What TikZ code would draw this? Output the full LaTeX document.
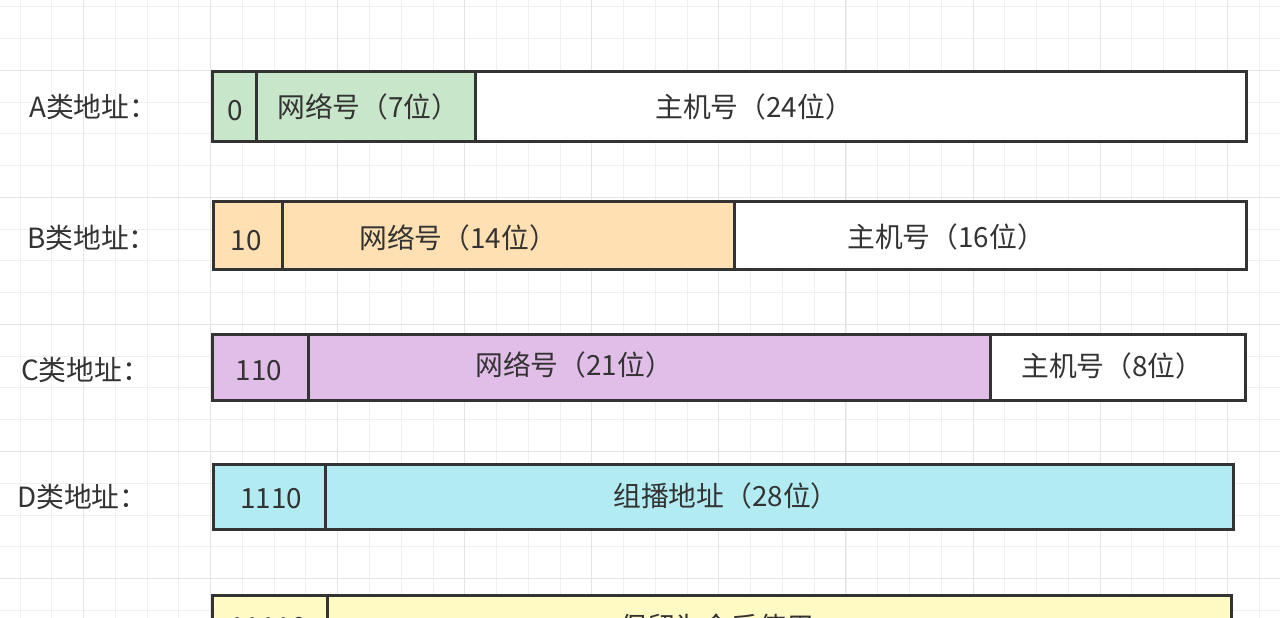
\documentclass[tikz,border=0pt]{standalone}
\usepackage{fontspec}
\setmainfont{Noto Sans CJK SC}
\definecolor{edgec}{HTML}{333333}
\definecolor{txtc}{HTML}{333333}
\definecolor{cgreen}{HTML}{C8E6C9}
\definecolor{corange}{HTML}{FFE0B2}
\definecolor{cpurple}{HTML}{E1BEE7}
\definecolor{ccyan}{HTML}{B2EBF2}
\definecolor{cyellow}{HTML}{FFF9C4}
\definecolor{gridminor}{HTML}{F0F0F0}
\definecolor{gridmajor}{HTML}{E4E4E4}
\tikzset{
  cell/.style={draw=edgec, line width=3pt, anchor=north west, inner sep=0pt, outer sep=0pt},
  txt/.style={anchor=base west, inner sep=0pt, text=txtc, font=\fontsize{27.8}{31}\selectfont},
  bits/.style={anchor=base, inner sep=0pt, text=txtc, font=\fontsize{27.8}{31}\selectfont},
  lbl/.style={anchor=base west, inner sep=0pt, text=txtc, font=\fontsize{27.8}{31}\selectfont},
}
\begin{document}
\begin{tikzpicture}[x=1pt,y=-1pt]
\useasboundingbox (0,0) rectangle (1280,618);
\clip (0,0) rectangle (1280,618);
\fill[white] (0,0) rectangle (1280,618);
% grid
\foreach \i in {0,...,40} {
  \draw[gridminor, line width=1pt] ({20+31.77*\i},0) -- ({20+31.77*\i},618);
}
\foreach \j in {0,...,20} {
  \draw[gridminor, line width=1pt] (0,{6.7+31.77*\j}) -- (1280,{6.7+31.77*\j});
}
\foreach \i in {0,...,9} {
  \draw[gridmajor, line width=1pt] ({83.5+127.08*\i},0) -- ({83.5+127.08*\i},618);
}
\foreach \j in {0,...,4} {
  \draw[gridmajor, line width=1pt] (0,{70.2+127.08*\j}) -- (1280,{70.2+127.08*\j});
}

% Row A
\node[cell, fill=white,  minimum width=771pt, minimum height=69pt] (a2) at (475,72) {};
\node[cell, fill=cgreen, minimum width=219pt, minimum height=69pt] (a1) at (256,72) {};
\node[cell, fill=cgreen, minimum width=44pt,  minimum height=69pt] (a0) at (212,72) {};
\node[lbl] (la) at (29,117.5) {A类地址：};
\node[bits] (ta0) at (235,120.5) {0};
\node[txt] (ta1) at (277,117.5) {网络号（7位）};
\node[txt] (ta2) at (655,117.5) {主机号（24位）};

% Row B
\node[cell, fill=white,   minimum width=512pt, minimum height=68pt] (b2) at (734,201) {};
\node[cell, fill=corange, minimum width=452pt, minimum height=68pt] (b1) at (282,201) {};
\node[cell, fill=corange, minimum width=69pt,  minimum height=68pt] (b0) at (213,201) {};
\node[lbl] (lb) at (27,248.5) {B类地址：};
\node[bits] (tb0) at (246,250.5) {10};
\node[txt] (tb1) at (359,248.5) {网络号（14位）};
\node[txt] (tb2) at (847,247.5) {主机号（16位）};

% Row C
\node[cell, fill=white,   minimum width=255pt, minimum height=66pt] (c2) at (990,334) {};
\node[cell, fill=cpurple, minimum width=682pt, minimum height=66pt] (c1) at (308,334) {};
\node[cell, fill=cpurple, minimum width=96pt,  minimum height=66pt] (c0) at (212,334) {};
\node[lbl] (lc) at (21,380.5) {C类地址：};
\node[bits] (tc0) at (259,380.5) {110};
\node[txt] (tc1) at (475,375.5) {网络号（21位）};
\node[txt] (tc2) at (1021,376.5) {主机号（8位）};

% Row D
\node[cell, fill=ccyan, minimum width=908pt, minimum height=65pt] (d1) at (325,464) {};
\node[cell, fill=ccyan, minimum width=112pt, minimum height=65pt] (d0) at (213,464) {};
\node[lbl] (ld) at (17,507.5) {D类地址：};
\node[bits] (td0) at (271,508.5) {1110};
\node[txt] (td1) at (613,506.5) {组播地址（28位）};

% Row E (cut off at the bottom)
\node[cell, fill=cyellow, minimum width=904pt, minimum height=66pt] (e1) at (327,595) {};
\node[cell, fill=cyellow, minimum width=115pt, minimum height=66pt] (e0) at (212,595) {};
\node[bits] (te0) at (268,637) {11110};
\node[txt] (te1) at (619,637) {保留为今后使用};
\end{tikzpicture}
\end{document}
